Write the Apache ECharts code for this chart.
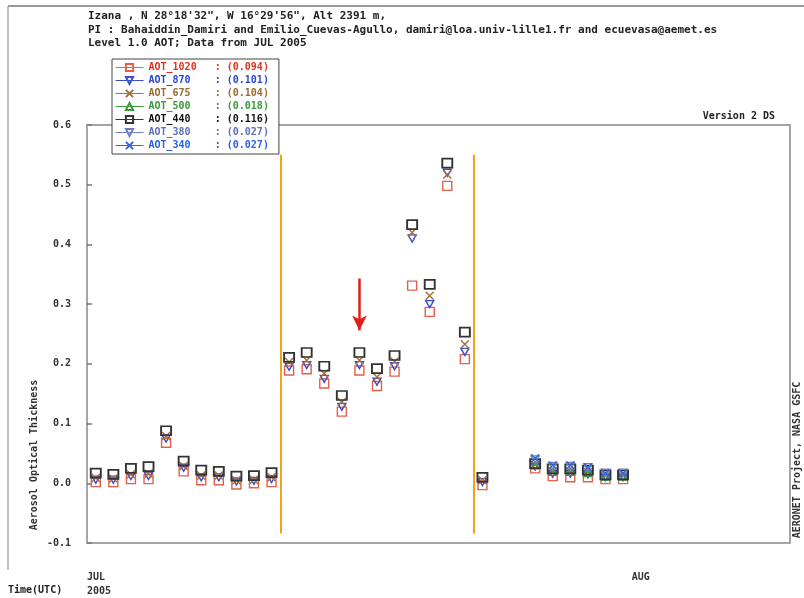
<!DOCTYPE html>
<html><head><meta charset="utf-8">
<script src="https://cdn.jsdelivr.net/npm/echarts@6/dist/echarts.min.js"></script>
<style>html,body{margin:0;padding:0;background:#fff}#c{width:804px;height:598px}</style>
</head><body><div id="c"></div>
<script>
// Day of July 2005 (daily averages plotted at noon)
const days = [1,2,3,4,5,6,7,8,9,10,11,12,13,14,15,16,17,18,19,20,21,22,23,26,27,28,29,30,31];
const aot1020 = [0.002,0.002,0.007,0.007,0.068,0.020,0.005,0.005,-0.002,0.000,0.002, 0.189,0.191,0.167,0.120,0.189,0.163,0.187,0.331,0.287,0.498,0.208, -0.003, 0.025,0.012,0.010,0.010,0.007,0.007];
const aot870  = [0.006,0.006,0.012,0.012,0.075,0.026,0.010,0.010,0.003,0.004,0.007, 0.195,0.198,0.175,0.128,0.198,0.170,0.196,0.410,0.300,0.520,0.220, 0.002, 0.028,0.016,0.016,0.015,0.010,0.010];
const aot675  = [0.009,0.008,0.015,0.016,0.079,0.029,0.013,0.013,0.005,0.006,0.010, 0.203,0.206,0.184,0.136,0.206,0.178,0.204,0.420,0.314,0.517,0.233, 0.005, 0.031,0.020,0.020,0.019,0.012,0.012];
const aot500  = [null,null,null,null,null,null,null,null,null,null,null, null,null,null,null,null,null,null,null,null,null,null, null, 0.030,0.019,0.019,0.017,0.011,0.011];
const aot440  = [0.017,0.015,0.025,0.028,0.088,0.037,0.022,0.020,0.012,0.013,0.018, 0.211,0.219,0.196,0.147,0.219,0.192,0.214,0.433,0.333,0.536,0.253, 0.010, 0.033,0.024,0.024,0.022,0.014,0.014];
const aot380  = [null,null,null,null,null,null,null,null,null,null,null, null,null,null,null,null,null,null,null,null,null,null, null, 0.040,0.029,0.029,0.027,0.018,0.018];
const aot340  = [null,null,null,null,null,null,null,null,null,null,null, null,null,null,null,null,null,null,null,null,null,null, null, 0.042,0.030,0.030,0.027,0.017,0.017];

const seriesNames = ['AOT_1020','AOT_870','AOT_675','AOT_500','AOT_440','AOT_380','AOT_340'];
const seriesValues = [aot1020, aot870, aot675, aot500, aot440, aot380, aot340];
const averages = ['0.094','0.101','0.104','0.018','0.116','0.027','0.027'];
const yTicks = [-0.1, 0.0, 0.1, 0.2, 0.3, 0.4, 0.5, 0.6];
const xTickLabels = { 0: 'JUL\n2005', 31: 'AUG' };
const boundaryDays = [11, 22];       // orange separators (days since Jul 1)
const boundaryRange = [-0.084, 0.55];
const arrowDay = 16;                  // red arrow pointing at Jul 16
const arrowRange = [0.343, 0.256];

const colors = ['#e4604c', '#3b4fd0', '#a5703a', '#3a9a3a', '#333333', '#6f7fbf', '#2d66dd'];
const textColors = ['#e2321e', '#2b45d0', '#9a6a30', '#3a9a3a', '#111111', '#5f70b8', '#2a62dd'];
const symbols = ['rect', 'path://M0 0L10 0L5 9Z', 'path://M0 0L10 10M10 0L0 10', 'triangle', 'rect', 'path://M0 0L10 0L5 9Z', 'path://M0 0L10 10M10 0L0 10'];
const symbolSizes = [[9, 9], [8, 7], [8, 8], [8, 7], [10, 9], [8, 7], [8, 8]];

const mono = 'DejaVu Sans Mono';
const series = seriesNames.map((n, i) => ({
  name: n, type: 'line', silent: true,
  data: days.map((d, k) => [d - 0.5, seriesValues[i][k]]),
  symbol: symbols[i], symbolSize: symbolSizes[i],
  lineStyle: { opacity: 0, color: colors[i] },
  itemStyle: { color: 'rgba(0,0,0,0)', borderColor: colors[i], borderWidth: i === 4 ? 1.8 : 1.4 },
  z: 3 + i
}));
series[0].markLine = {
  silent: true, symbol: 'none', animation: false,
  label: { show: false },
  lineStyle: { color: '#f4a11c', width: 2, type: 'solid' },
  data: boundaryDays.map(d => [{ coord: [d, boundaryRange[0]] }, { coord: [d, boundaryRange[1]] }])
};
series[1].markLine = {
  silent: true, symbol: ['none', 'arrow'], symbolSize: [11, 15], animation: false,
  label: { show: false },
  lineStyle: { color: '#e02018', width: 2.5, type: 'solid' },
  data: [[{ coord: [arrowDay - 0.5, arrowRange[0]] }, { coord: [arrowDay - 0.5, arrowRange[1]] }]]
};

const chart = echarts.init(document.getElementById('c'), null, { renderer: 'canvas' });
const tStyle = { fontFamily: mono, fontWeight: 'bold', fontSize: 11, fill: '#222' };
chart.setOption({
  animation: false,
  backgroundColor: '#fff',
  grid: { left: 87, right: 14, top: 125, bottom: 52, show: true, borderColor: '#888', borderWidth: 1.5, backgroundColor: 'transparent' },
  xAxis: {
    type: 'value', min: 0, max: 40, interval: 1,
    axisLine: { show: false }, axisTick: { show: false }, splitLine: { show: false },
    axisLabel: { align: 'left', margin: 27, lineHeight: 14, fontFamily: mono, fontWeight: 'bold', fontSize: 10, color: '#333',
      formatter: v => xTickLabels[v] || '' }
  },
  yAxis: {
    type: 'value', min: -0.1, max: 0.6, interval: 0.1,
    axisLine: { show: false }, splitLine: { show: false },
    axisTick: { show: true, inside: true, length: 5, lineStyle: { color: '#777', width: 1.5 } },
    axisLabel: { margin: 16, fontFamily: mono, fontWeight: 'bold', fontSize: 10, color: '#333',
      formatter: v => yTicks.includes(Math.round(v * 10) / 10) ? (Math.round(v * 10) / 10).toFixed(1) : '' }
  },
  legend: {
    orient: 'vertical', left: 112, top: 59, itemWidth: 28, itemHeight: 9, itemGap: 2,
    padding: [3, 10, 3, 3], borderColor: '#444', borderWidth: 1, backgroundColor: '#fff',
    selectedMode: false,
    textStyle: { fontFamily: mono, fontWeight: 'bold', fontSize: 10, lineHeight: 11 },
    formatter: name => name.padEnd(11, ' ') + ': (' + averages[seriesNames.indexOf(name)] + ')',
    data: seriesNames.map((n, i) => ({ name: n, textStyle: { color: textColors[i] }, lineStyle: { color: colors[i], width: 1, opacity: 1 } }))
  },
  graphic: [
    { type: 'line', shape: { x1: 8, y1: 6, x2: 804, y2: 6 }, style: { stroke: '#999', lineWidth: 2 } },
    { type: 'line', shape: { x1: 8, y1: 6, x2: 8, y2: 570 }, style: { stroke: '#aaa', lineWidth: 1.5 } },
    { type: 'text', left: 88, top: 11, style: Object.assign({ text: "Izana , N 28°18'32\", W 16°29'56\", Alt 2391 m," }, tStyle) },
    { type: 'text', left: 88, top: 25, style: Object.assign({ text: 'PI : Bahaiddin_Damiri and Emilio_Cuevas-Agullo, damiri@loa.univ-lille1.fr and ecuevasa@aemet.es' }, tStyle) },
    { type: 'text', left: 88, top: 38, style: Object.assign({ text: 'Level 1.0 AOT; Data from JUL 2005' }, tStyle) },
    { type: 'text', right: 29, top: 111, style: { text: 'Version 2 DS', fontFamily: mono, fontWeight: 'bold', fontSize: 10, fill: '#222' } },
    { type: 'text', x: 8, y: 585, style: { text: 'Time(UTC)', fontFamily: mono, fontWeight: 'bold', fontSize: 10, fill: '#222' } },
    { type: 'text', x: 34, y: 455, rotation: Math.PI / 2, style: { text: 'Aerosol Optical Thickness', fontFamily: mono, fontWeight: 'bold', fontSize: 10, fill: '#333', align: 'center', verticalAlign: 'middle' } },
    { type: 'text', x: 797, y: 460, rotation: Math.PI / 2, style: { text: 'AERONET Project, NASA GSFC', fontFamily: mono, fontWeight: 'bold', fontSize: 10, fill: '#333', align: 'center', verticalAlign: 'middle' } }
  ],
  series: series
});
</script>
</body></html>
